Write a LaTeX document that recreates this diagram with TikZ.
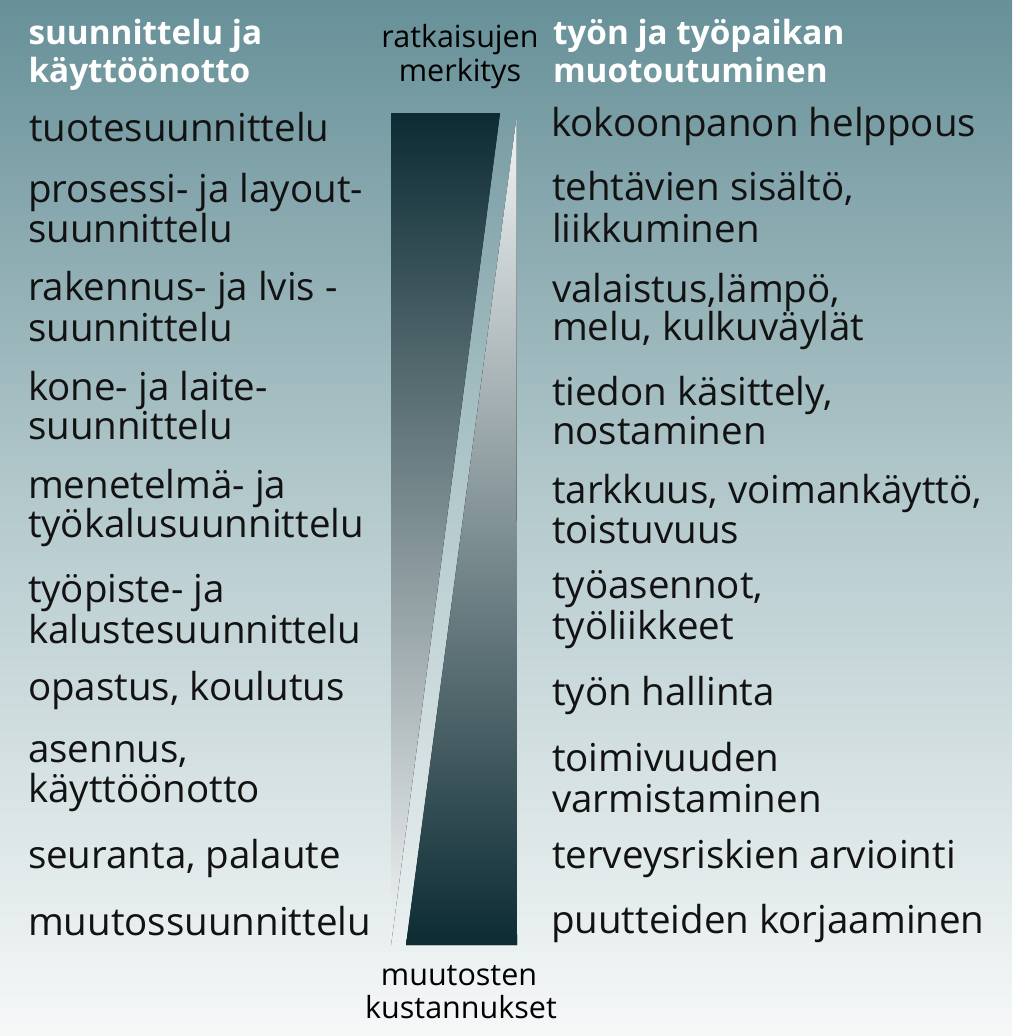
\documentclass[tikz,border=0pt]{standalone}
\usepackage{fontspec}
\setmainfont{Open Sans}
\definecolor{bgtop}{RGB}{103,144,152}
\definecolor{bgmid}{RGB}{182,203,206}
\definecolor{bgbot}{RGB}{246,248,248}
\definecolor{dk}{RGB}{12,43,51}
\definecolor{lt}{RGB}{242,244,244}
\definecolor{txt}{RGB}{18,18,18}
\tikzset{
  lbl/.style={anchor=base west, inner sep=0pt, outer sep=0pt, text=txt,
    font=\fontsize{38.5}{40}\selectfont},
  hdr/.style={anchor=base west, inner sep=0pt, outer sep=0pt, text=white,
    font=\bfseries\fontsize{33.3}{38}\selectfont},
  mid/.style={anchor=base, inner sep=0pt, outer sep=0pt, text=black,
    font=\fontsize{30.5}{34}\selectfont},
}
\begin{document}
\begin{tikzpicture}[x=1pt,y=-1pt]
\useasboundingbox (0,0) rectangle (1012,1036);
% background
\fill[top color=bgtop, bottom color=bgbot, middle color=bgmid] (0,0) rectangle (1012,1036);
% wedges
\fill[top color=dk, bottom color=lt] (391,113) -- (500,113) -- (391,945) -- cycle;
\fill[top color=lt, bottom color=dk] (516.5,118) -- (517,945) -- (406,945) -- cycle;
% headers
\node[hdr] (hl1) at (28.5,44) {suunnittelu ja};
\node[hdr] (hl2) at (28.5,82) {käyttöönotto};
\node[hdr] (hr1) at (553,44) {työn ja työpaikan};
\node[hdr] (hr2) at (553,82) {muotoutuminen};
\node[mid] (m1) at (460,47) {ratkaisujen};
\node[mid] (m2) at (460,81) {merkitys};
\node[mid] (m3) at (459,985) {muutosten};
\node[mid] (m4) at (461,1018) {kustannukset};
% left column
\node[lbl] (l1) at (29,141) {tuotesuunnittelu};
\node[lbl] (l2a) at (28,202) {prosessi- ja layout-};
\node[lbl] (l2b) at (28,242) {suunnittelu};
\node[lbl] (l3a) at (28,300) {rakennus- ja lvis -};
\node[lbl] (l3b) at (28,341) {suunnittelu};
\node[lbl] (l4a) at (28,400) {kone- ja laite-};
\node[lbl] (l4b) at (28,439) {suunnittelu};
\node[lbl] (l5a) at (28,498) {menetelmä- ja};
\node[lbl] (l5b) at (28,537) {työkalusuunnittelu};
\node[lbl] (l6a) at (28,602) {työpiste- ja};
\node[lbl] (l6b) at (28,643) {kalustesuunnittelu};
\node[lbl] (l7) at (28,700) {opastus, koulutus};
\node[lbl] (l8a) at (28,762) {asennus,};
\node[lbl] (l8b) at (28,802) {käyttöönotto};
\node[lbl] (l9) at (28,868) {seuranta, palaute};
\node[lbl] (l10) at (28,935) {muutossuunnittelu};
% right column
\node[lbl] (r1) at (551,136) {kokoonpanon helppous};
\node[lbl] (r2a) at (552,200) {tehtävien sisältö,};
\node[lbl] (r2b) at (552,242) {liikkuminen};
\node[lbl] (r3a) at (552,302) {valaistus,lämpö,};
\node[lbl] (r3b) at (552,340) {melu, kulkuväylät};
\node[lbl] (r4a) at (552,405) {tiedon käsittely,};
\node[lbl] (r4b) at (552,444) {nostaminen};
\node[lbl] (r5a) at (552,503) {tarkkuus, voimankäyttö,};
\node[lbl] (r5b) at (552,543) {toistuvuus};
\node[lbl] (r6a) at (552,598) {työasennot,};
\node[lbl] (r6b) at (552,639) {työliikkeet};
\node[lbl] (r7) at (552,705) {työn hallinta};
\node[lbl] (r8a) at (552,771) {toimivuuden};
\node[lbl] (r8b) at (552,812) {varmistaminen};
\node[lbl] (r9) at (552,868) {terveysriskien arviointi};
\node[lbl] (r10) at (551,933) {puutteiden korjaaminen};
\end{tikzpicture}
\end{document}
